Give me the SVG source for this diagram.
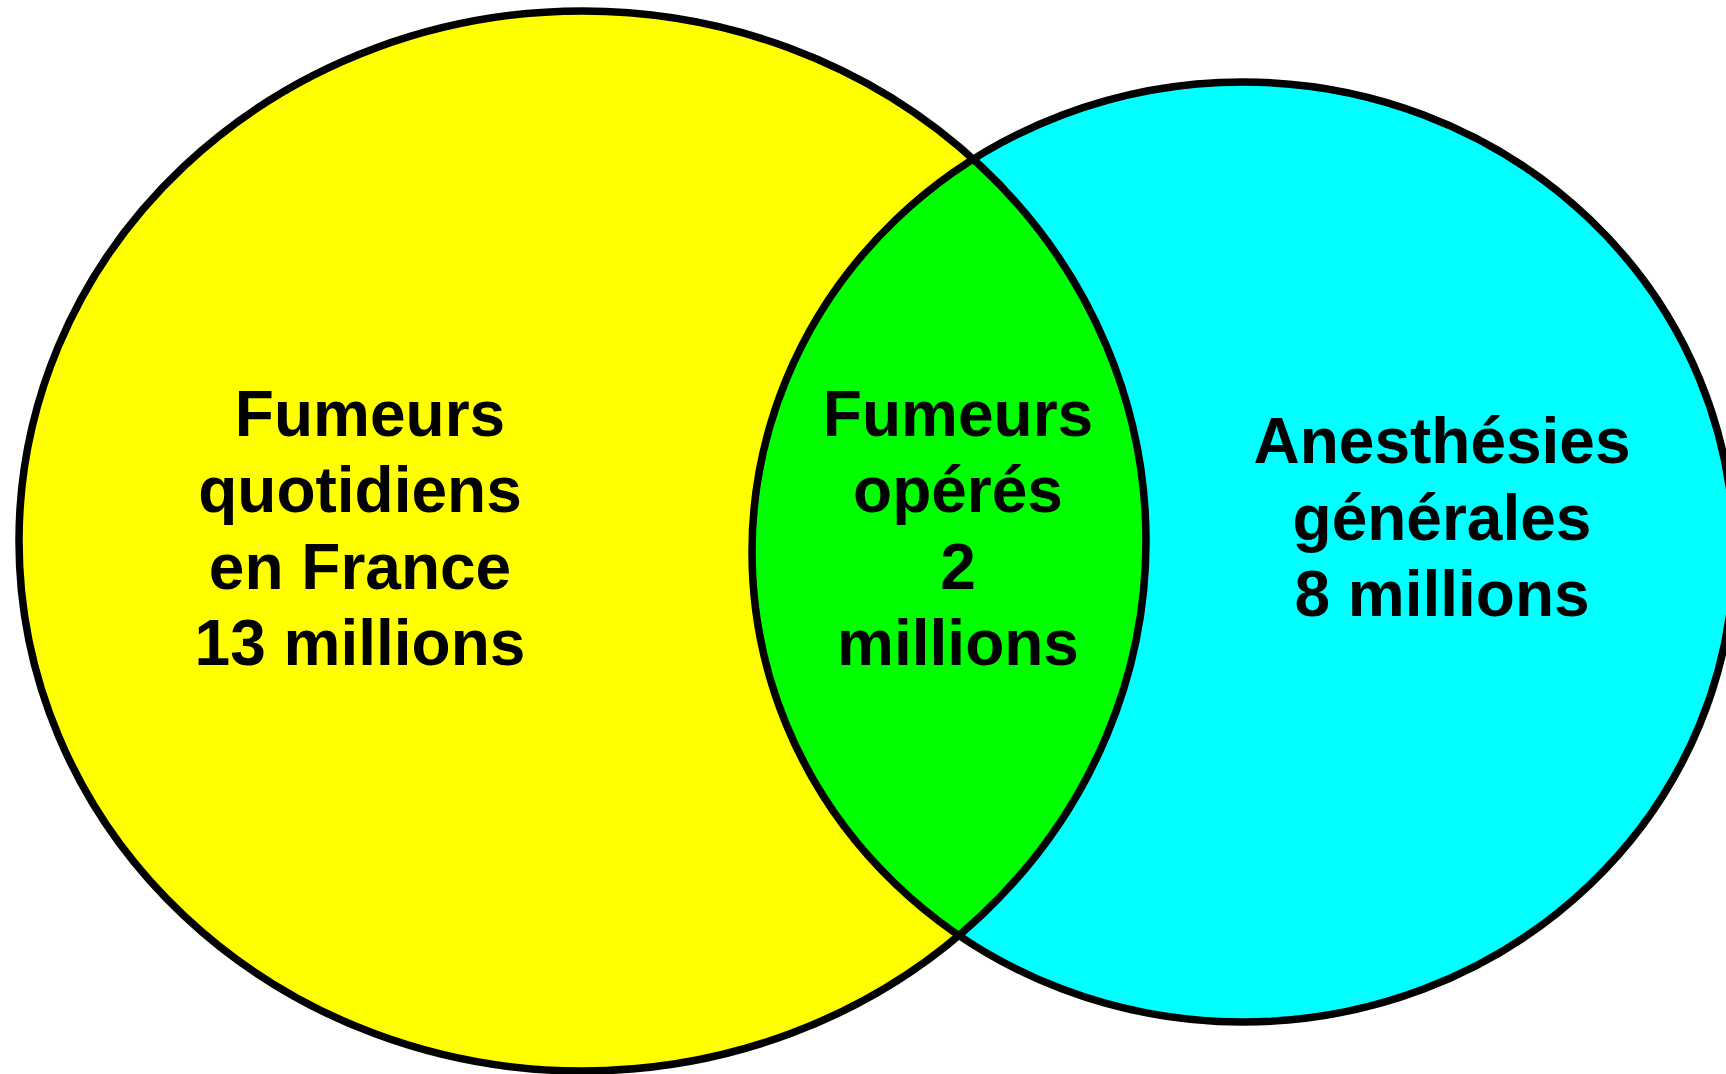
<svg xmlns="http://www.w3.org/2000/svg" width="1726" height="1074" viewBox="0 0 1726 1074">
<style>
.lbl{font-family:"Liberation Sans",Arial,sans-serif;font-weight:bold;font-size:64px;fill:#000;text-anchor:middle}
.edge{fill:none;stroke:#000;stroke-width:7.5}
</style>
<defs>
<clipPath id="clipY"><ellipse cx="582.5" cy="541" rx="563.5" ry="530"/></clipPath>
</defs>
<g id="set-fumeurs">
<ellipse cx="582.5" cy="541" rx="563.5" ry="530" fill="#FFFF00"/>
</g>
<g id="set-anesthesies">
<ellipse cx="1243" cy="552" rx="491" ry="470" fill="#00FFFF"/>
</g>
<g id="intersection">
<ellipse cx="1243" cy="552" rx="491" ry="470" fill="#00FF00" clip-path="url(#clipY)"/>
</g>
<g id="outlines">
<ellipse class="edge" cx="582.5" cy="541" rx="563.5" ry="530"/>
<ellipse class="edge" cx="1243" cy="552" rx="491" ry="470"/>
</g>
<g id="labels">
<text class="lbl" x="370" y="436">Fumeurs</text>
<text class="lbl" x="360" y="512">quotidiens</text>
<text class="lbl" x="360" y="589">en France</text>
<text class="lbl" x="360" y="665">13 millions</text>
<text class="lbl" x="958" y="436">Fumeurs</text>
<text class="lbl" x="958" y="512">opérés</text>
<text class="lbl" x="958" y="589">2</text>
<text class="lbl" x="958" y="665">millions</text>
<text class="lbl" x="1442" y="463">Anesthésies</text>
<text class="lbl" x="1442" y="540">générales</text>
<text class="lbl" x="1442" y="616">8 millions</text>
</g>
</svg>
